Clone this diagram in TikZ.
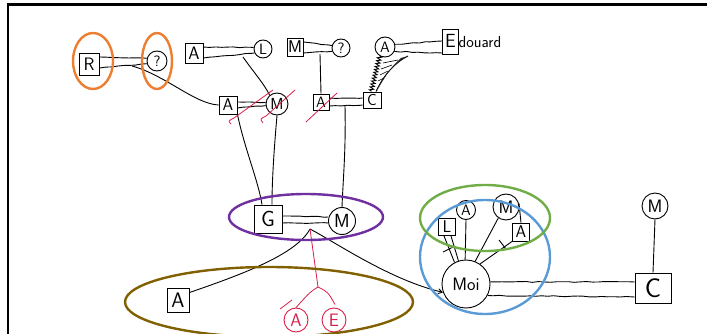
\documentclass[tikz,border=0pt]{standalone}
\usetikzlibrary{calc,decorations.pathmorphing,arrows.meta}
\definecolor{cOrange}{RGB}{237,125,49}
\definecolor{cPurple}{RGB}{112,48,160}
\definecolor{cBrown}{RGB}{128,96,0}
\definecolor{cGreen}{RGB}{112,173,71}
\definecolor{cBlue}{RGB}{91,155,213}
\definecolor{cRed}{RGB}{214,30,72}
\newcommand{\fsz}[1]{\sffamily\fontsize{#1}{#1}\selectfont}
\begin{document}
\pgfmathsetseed{11}
\begin{tikzpicture}[x=1pt,y=-1pt,
  sq/.style={draw, line width=0.9pt, minimum width=17pt, minimum height=17pt, inner sep=0pt, font=\fsz{17}},
  ci/.style={draw, circle, line width=0.9pt, minimum size=19pt, inner sep=0pt, font=\fsz{15}},
  rci/.style={ci, cRed},
  link/.style={line width=0.9pt, black},
  couple/.style={link, decorate, decoration={random steps, segment length=6pt, amplitude=0.45pt}},
  redl/.style={line width=0.8pt, cRed},
  hl/.style={line width=2.4pt}]
\useasboundingbox (0,0) rectangle (707,334);
% frame
\draw[line width=2.6pt] (7,4.5) -- (707,4.5);
\draw[line width=2.3pt] (8,3.5) -- (8,334);
% top generation
\node (R)  [sq, minimum width=20pt, minimum height=22pt, font=\fsz{18}] at (89,64) {R};
\node (q1) [ci, minimum size=20pt] at (157,61) {?};
\node (A1) [sq, minimum width=18pt, minimum height=20pt, font=\fsz{18}] at (194,53) {A};
\node (L1) [ci, minimum size=18pt] at (263,49) {L};
\node (M1) [sq, minimum width=16pt, minimum height=18pt] at (295,47) {M};
\node (q2) [ci, minimum size=18pt] at (341,48) {?};
\node (A4) [ci, minimum size=20pt] at (385,47) {A};
\node (Ed) [anchor=base west, inner sep=0pt, font=\fsz{16}] at (442,48)
  {\fboxsep=2pt\fboxrule=0.9pt\fbox{\rule[-4pt]{0pt}{20pt}{\fsz{19}E}}douard};
% second generation
\node (A2) [sq, minimum width=18pt, minimum height=18pt] at (228,105) {A};
\node (M2) [ci, minimum size=22pt, font=\fsz{16}] at (277,104) {M};
\node (A3) [sq, minimum width=16pt, minimum height=16pt, font=\fsz{15}] at (321,102) {A};
\node (C1) [sq, minimum width=18pt, minimum height=16pt, font=\fsz{16}] at (372,100) {C};
% third generation
\node (G)  [sq, minimum width=28pt, minimum height=28pt, font=\fsz{22}] at (268,219) {G};
\node (M3) [ci, minimum size=27pt, font=\fsz{19}] at (342,221) {M};
% fourth generation
\node (A5) [sq, minimum width=22pt, minimum height=24pt, font=\fsz{21}] at (178,300) {A};
\node (Ar) [rci, minimum size=24pt, font=\fsz{18}] at (296,320) {A};
\node (Er) [rci, minimum size=24pt, font=\fsz{18}] at (334,320) {E};
\node (Moi) [ci, minimum size=48pt, font=\fsz{18}] at (466,284) {Moi};
\node (L2) [sq, minimum width=17pt, minimum height=17pt] at (447,227) {L};
\node (A6) [ci, minimum size=19pt] at (466,210) {A};
\node (M4) [ci, minimum size=26pt, font=\fsz{18}] at (506,207) {M};
\node (A7) [sq, minimum width=17pt, minimum height=18pt] at (521,232) {A};
\node (C2) [sq, minimum width=36pt, minimum height=30pt, font=\fsz{27}] at (653,288) {C};
\node (M5) [ci, minimum size=26pt, font=\fsz{18}] at (655,206) {M};
% child points
\coordinate (k1) at (132,66);
\coordinate (k2) at (243,57);
\coordinate (k3) at (320,54);
\coordinate (k4) at (345,106);
\coordinate (k5) at (310,229);
\coordinate (k6) at (318,287);
\coordinate (k7) at (408,56);
% couples
\draw[couple] ($(R.east)+(0,-7)$) -- (q1.165);
\draw[couple] ($(R.east)+(0,4)$) -- (q1.195);
\draw[couple] ($(A1.east)+(0,-6)$) -- (L1.170);
\draw[couple] ($(A1.east)+(0,5)$) -- (L1.205);
\draw[couple] ($(M1.east)+(0,-5)$) -- (q2.165);
\draw[couple] ($(M1.east)+(0,6)$) -- (q2.200);
\draw[couple] ($(A2.east)+(0,-3)$) -- (M2.172);
\draw[couple] ($(A2.east)+(0,3)$) -- (M2.188);
\draw[couple] ($(A3.east)+(0,-4)$) -- ($(C1.west)+(0,-2)$);
\draw[couple] ($(A3.east)+(0,4)$) -- ($(C1.west)+(0,5)$);
\draw[couple] (A4.15) -- ($(Ed.west)+(0,-1)$);
\draw[couple] (A4.-25) -- ($(Ed.west)+(0,11)$);
\draw[couple] ($(G.east)+(0,-3)$) -- ($(M3.west)+(0,-4)$);
\draw[couple] ($(G.east)+(0,4)$) -- ($(M3.west)+(0,2)$);
\draw[couple] (Moi.5) -- ($(C2.west)+(0,-6)$);
\draw[couple] (Moi.-28) -- ($(C2.west)+(0,9)$);
% descent
\draw[link] (k1) .. controls (165,75) and (195,104) .. (A2.west);
\draw[link] (k2) .. controls (252,70) and (265,85) .. (M2.130);
\draw[link] (k3) -- (A3.north);
\draw[link] (A2.south east) .. controls (245,150) and (258,180) .. ($(G.north)+(-6,0)$);
\draw[link] (M2.south) .. controls (274,150) and (272,180) .. ($(G.north)+(4,0)$);
\draw[link] (k4) .. controls (346,150) and (343,180) .. (M3.north);
\draw[link] (k5) .. controls (296,255) and (240,275) .. ($(A5.north east)+(0,5)$);
\draw[link, -{Straight Barb[length=4pt,width=5pt]}] (k5) .. controls (335,242) and (390,280) .. (Moi.200);
% scribble between A and C
\draw[link, decorate, decoration={zigzag, segment length=3pt, amplitude=2pt}] (A4.240) -- ($(C1.north)+(-1,0)$);
\draw[link] (k7) .. controls (396,62) and (384,74) .. ($(C1.north)+(4,0)$);
\fill[black!85] (k7) .. controls (396,62) and (384,74) .. (377,91) .. controls (386,74) and (394,64) .. (401,58) -- cycle;
\draw[link, line width=0.6pt] (383,63) -- (398,60) (381,69) -- (392,65) (380,75) -- (388,71) (378,81) -- (384,78);
% red
\draw[redl] (231,124) .. controls (228,121) .. (234,118) -- (273,90);
\draw[redl] (263,123) .. controls (260,119) .. (266,116) -- (295,90);
\draw[redl] (306,122) -- (337,93);
\draw[redl] (k5) -- (k6);
\draw[redl] (k6) .. controls (310,292) .. (Ar.north);
\draw[redl] (k6) .. controls (328,292) .. ($(Er.north)+(1,-3)$);
\draw[redl] (280,309) -- (292,300);
% Moi's group
\draw[link] ($(L2.south)+(-3,0)$) -- (Moi.118);
\draw[link] ($(L2.south)+(4,0)$) -- (Moi.108);
\draw[link] (A6.south) -- (Moi.92);
\draw[link] (M4.235) -- (Moi.68);
\draw[link] (A7.south west) -- (Moi.55);
\draw[link] (M4.15) -- (A7.north);
\draw[link] (443,252) -- (453,247);
\draw[link] (499,240) -- (506,249);
\draw[link] (M5.south) -- (C2.north);
% highlight ellipses
\draw[hl, cOrange] (93,61) ellipse [x radius=20, y radius=28];
\draw[hl, cOrange] (157,61) ellipse [x radius=15, y radius=28];
\draw[hl, cPurple] (306,217) ellipse [x radius=77, y radius=23];
\draw[hl, cBrown] (269,302) ellipse [x radius=144, y radius=35];
\draw[hl, cBlue] (485,257) ellipse [x radius=65, y radius=57];
\draw[hl, cGreen] (485,218) ellipse [x radius=65, y radius=33];
\end{tikzpicture}
\end{document}
